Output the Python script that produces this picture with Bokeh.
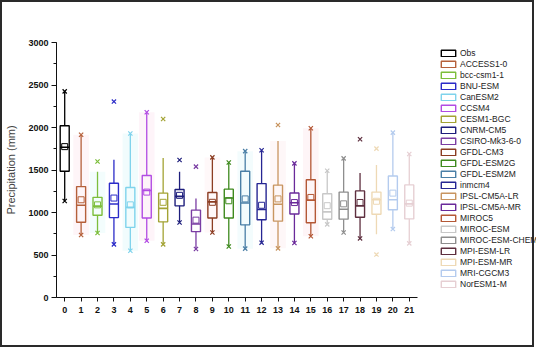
from bokeh.plotting import figure
from bokeh.models import ColumnDataSource, Legend, LegendItem, Range1d, FixedTicker
from bokeh.embed import file_html
from bokeh.resources import INLINE

models = ["Obs", "ACCESS1-0", "bcc-csm1-1", "BNU-ESM", "CanESM2", "CCSM4", "CESM1-BGC",
          "CNRM-CM5", "CSIRO-Mk3-6-0", "GFDL-CM3", "GFDL-ESM2G", "GFDL-ESM2M", "inmcm4",
          "IPSL-CM5A-LR", "IPSL-CM5A-MR", "MIROC5", "MIROC-ESM", "MIROC-ESM-CHEM",
          "MPI-ESM-LR", "MPI-ESM-MR", "MRI-CGCM3", "NorESM1-M"]
positions = list(range(22))
q1 = [1485, 885, 968, 940, 825, 935, 890, 1078, 775, 935, 935, 855, 915, 898, 982, 880, 920, 922, 944, 980, 1033, 925]
median = [1768, 1085, 1075, 1100, 1060, 1258, 1048, 1190, 865, 1125, 1170, 1112, 1035, 1097, 1115, 1146, 1007, 1038, 1078, 1150, 1150, 1102]
q3 = [2020, 1305, 1178, 1345, 1295, 1435, 1228, 1270, 1028, 1236, 1275, 1485, 1340, 1322, 1230, 1385, 1220, 1240, 1254, 1240, 1430, 1325]
mean = [1775, 1150, 1090, 1170, 1090, 1240, 1120, 1202, 910, 1120, 1138, 1160, 1085, 1160, 1117, 1177, 1080, 1102, 1118, 1132, 1228, 1110]
whisker_low = [1135, 735, 758, 625, 550, 668, 625, 882, 570, 765, 600, 575, 645, 578, 642, 720, 860, 765, 695, 745, 805, 637]
whisker_high = [2425, 1915, 1480, 1620, 1930, 2180, 1640, 1480, 1165, 1648, 1588, 1722, 1733, 1840, 1578, 1992, 1492, 1637, 1465, 1560, 1940, 1688]
min_val = [1135, 735, 758, 625, 550, 668, 625, 882, 570, 765, 600, 575, 645, 578, 642, 720, 860, 765, 695, 505, 805, 637]
max_val = [2425, 1915, 1600, 2305, 1930, 2180, 2100, 1618, 1540, 1648, 1588, 1722, 1733, 2030, 1578, 1992, 1492, 1637, 1862, 1752, 1940, 1688]
y_ticks = [0, 500, 1000, 1500, 2000, 2500, 3000]

colors = ["#000000", "#B5603A", "#7DBE3C", "#2B2BC8", "#7FD3EC", "#B24BE3", "#A3A334",
          "#1E1E7C", "#7A3DA3", "#8B3C22", "#3E8A1E", "#4A7FA6", "#262693", "#C89560",
          "#6A2A9A", "#B45836", "#C8C8C8", "#8E8E8E", "#5E2F3F", "#EED9B5", "#B4CBEE", "#E6CFD3"]
# very faint halo colours seen behind some boxes
band_colors = ["#FFFFFF", "#FEF5F8", "#F3FDFD", "#FFFFFF", "#F1FCFD", "#FEF4F9", "#FFFFFF",
               "#FFFFFF", "#FFFFFF", "#FFF8F9", "#FFFFFF", "#F3FCFD", "#FFFFFF", "#FEF7F8",
               "#FFFFFF", "#FEF5F7", "#FFFFFF", "#FFFFFF", "#FFFFFF", "#FFFFFF", "#FFFFFF", "#FFFFFF"]

bw = 0.55
hw = 0.95
src = ColumnDataSource(dict(
    x=positions, q1=q1, med=median, q3=q3, mean=mean, wlo=whisker_low, whi=whisker_high,
    mn=min_val, mx=max_val, color=colors, band=band_colors,
    left=[p - bw / 2 for p in positions], right=[p + bw / 2 for p in positions],
    hleft=[p - hw / 2 for p in positions], hright=[p + hw / 2 for p in positions],
))

# frame extends under the legend; the x axis line is bounded to the data categories
x_end = -0.5 + 492 / (370 / 22)
p = figure(width=534, height=347, output_backend="svg", toolbar_location=None,
           x_range=Range1d(-0.5, x_end), y_range=Range1d(0, 3000),
           min_border_left=42, min_border_right=0, min_border_top=40, min_border_bottom=52)
p.styles = {"border": "2px solid #2a2a2a"}
p.outline_line_color = None
p.grid.grid_line_color = None
p.background_fill_color = "white"

p.quad(left="hleft", right="hright", bottom="wlo", top="whi", source=src,
       fill_color="band", line_color=None)
p.segment(x0="x", y0="q3", x1="x", y1="whi", source=src, line_color="color", line_width=1.3)
p.segment(x0="x", y0="q1", x1="x", y1="wlo", source=src, line_color="color", line_width=1.3)
boxes = p.quad(left="left", right="right", bottom="q1", top="q3", source=src,
               fill_color="white", fill_alpha=0, line_color="color", line_width=1.4)
p.segment(x0="left", y0="med", x1="right", y1="med", source=src, line_color="color", line_width=1.6)
p.scatter(x="x", y="mean", source=src, marker="square", size=6, fill_alpha=0,
          line_color="color", line_width=1)
p.scatter(x="x", y="mx", source=src, marker="x", size=6, line_color="color", line_width=1.2)
p.scatter(x="x", y="mn", source=src, marker="x", size=6, line_color="color", line_width=1.2)

p.xaxis.ticker = FixedTicker(ticks=positions)
p.xaxis.bounds = (-0.5, 21.5)
p.yaxis.ticker = FixedTicker(ticks=y_ticks, minor_ticks=[250 * k for k in range(13)])
p.yaxis.axis_label = "Precipitation (mm)"
p.yaxis.axis_label_text_font = "Liberation Sans"
p.yaxis.axis_label_text_font_size = "11px"
p.yaxis.axis_label_text_font_style = "normal"
p.yaxis.axis_label_standoff = 8
for ax in (p.xaxis, p.yaxis):
    ax.major_label_text_font = "Liberation Sans"
    ax.major_label_text_font_size = "9px"
    ax.major_label_text_font_style = "bold"
    ax.major_label_text_color = "#111111"
    ax.axis_line_color = "#111111"
    ax.major_tick_line_color = "#111111"
    ax.minor_tick_line_color = "#111111"
    ax.major_tick_out = 5
    ax.major_tick_in = 0
    ax.minor_tick_out = 3
    ax.minor_tick_in = 0
p.xaxis.minor_tick_line_color = None
p.xaxis.major_tick_out = 4
p.xaxis.major_label_standoff = 5
p.yaxis.major_label_standoff = 3

items = [LegendItem(label=m, renderers=[boxes], index=i) for i, m in enumerate(models)]
legend = Legend(items=items, location=(383, 8), padding=0, margin=0, spacing=0,
                glyph_width=18, glyph_height=8, label_height=11, label_standoff=3,
                label_text_font="Liberation Sans", label_text_font_size="8.5px",
                label_text_color="#222222", border_line_color=None,
                background_fill_alpha=0)
p.add_layout(legend, "center")

open("out.html", "w").write(file_html(p, INLINE))
